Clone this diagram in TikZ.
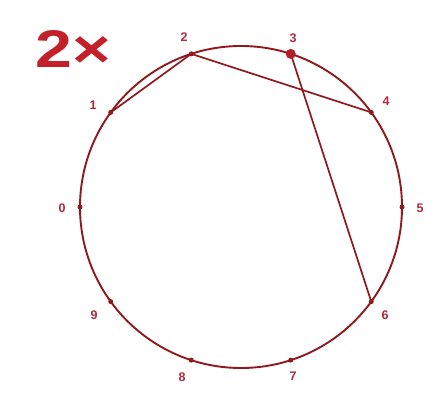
\documentclass[tikz,border=0pt]{standalone}
\usepackage{fontspec}
\setmainfont{Liberation Sans}
\usetikzlibrary{calc}
\definecolor{circred}{HTML}{8E1A1E}
\definecolor{titlered}{HTML}{C4202A}
\definecolor{labred}{HTML}{B02A3A}
\begin{document}
\begin{tikzpicture}[x=1pt,y=-1pt,
  ring/.style={draw=circred,line width=1.9pt},
  chord/.style={draw=circred,line width=1.7pt},
  pt/.style={circle,fill=circred,inner sep=0pt,minimum size=5pt},
  bigpt/.style={circle,fill=titlered!70!circred,inner sep=0pt,minimum size=10pt},
  lab/.style={text=labred,font=\fontsize{12.5}{12.5}\selectfont\bfseries,inner sep=0pt},
  title/.style={text=titlered,font=\fontsize{53}{53}\selectfont\bfseries,inner sep=0pt,xscale=1.25}]
\useasboundingbox[fill=white] (0,0) rectangle (448,394);
\coordinate (c) at (241,207);
\draw[ring] (c) circle[radius=161];
\foreach \i in {0,...,9} {
  \coordinate (p\i) at ($(c)+({161*cos(180-36*\i)},{-161*sin(180-36*\i)})$);
}
\draw[chord] (p1) -- (p2) -- (p4);
\draw[chord] (p3) -- (p6);
\foreach \i in {0,1,2,4,5,6,7,8,9} { \node[pt] (d\i) at (p\i) {}; }
\node[bigpt] (d3) at (p3) {};
\node[lab] (l0) at (62,208) {0};
\node[lab] (l1) at (93,105) {1};
\node[lab] (l2) at (184,37) {2};
\node[lab] (l3) at (293,38) {3};
\node[lab] (l4) at (386,101) {4};
\node[lab] (l5) at (420,208) {5};
\node[lab] (l6) at (385,315) {6};
\node[lab] (l7) at (293,376) {7};
\node[lab] (l8) at (182,377) {8};
\node[lab] (l9) at (94,315) {9};
\node[title,anchor=west] (t) at (35,49) {2×};
\end{tikzpicture}
\end{document}
